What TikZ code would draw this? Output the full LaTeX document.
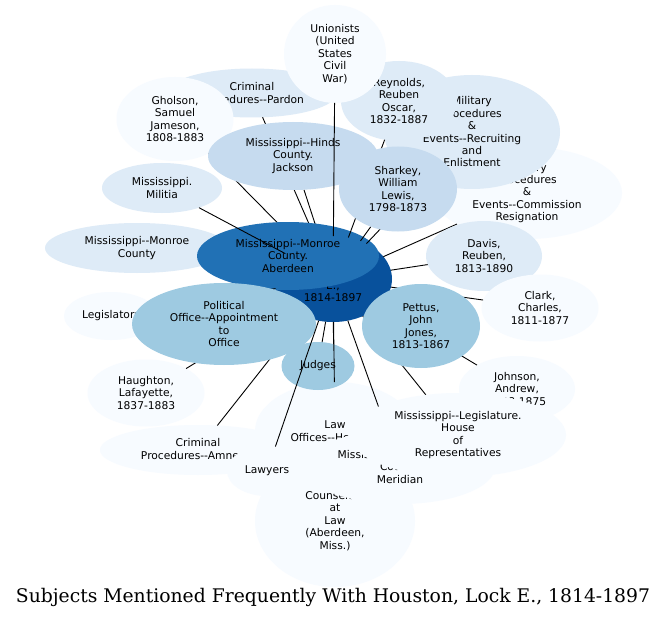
\documentclass[tikz,border=0pt]{standalone}
\usepackage{fontspec}
\usepackage{graphicx}
\usetikzlibrary{shapes.geometric}
\newfontfamily\nodefam{DejaVu Sans}
\newfontfamily\titlefam{DejaVu Serif}
\definecolor{bA}{HTML}{F7FBFF}
\definecolor{bB}{HTML}{DEEBF7}
\definecolor{bC}{HTML}{C6DBEF}
\definecolor{bD}{HTML}{9ECAE1}
\definecolor{bG}{HTML}{2171B5}
\definecolor{bH}{HTML}{08519C}
\pgfdeclarelayer{lZ}
\pgfdeclarelayer{lA}
\pgfdeclarelayer{lB}
\pgfdeclarelayer{lC}
\pgfdeclarelayer{lD}
\pgfdeclarelayer{lE}
\pgfdeclarelayer{lF}
\pgfdeclarelayer{lG}
\pgfdeclarelayer{lH}
\pgfdeclarelayer{lI}
\pgfsetlayers{lZ,lA,lB,lC,lD,lE,lF,lG,lH,lI,main}
\tikzset{
  bub/.style={ellipse, draw=none, inner sep=0pt, outer sep=0pt, align=center,
    font=\nodefam\fontsize{10.7}{12.4}\selectfont, text=black},
  sz/.style 2 args={minimum width=#1pt, minimum height=#2pt},
  link/.style={draw=black, line width=0.9pt},
}
\begin{document}
\begin{tikzpicture}[x=1pt, y=-1pt]
\useasboundingbox (0,0) rectangle (667,623);
\begin{pgfonlayer}{lZ}
\fill[white] (0,0) rectangle (667,623);
\end{pgfonlayer}
\begin{pgfonlayer}{lA}
\node[bub, fill=bH, sz={118}{86}] (houston) at (333,279) {Houston,\\Lock\\E.,\\1814-1897};
\node[bub, fill=bA, sz={190}{92}] (commission) at (527,193) {Military\\Procedures\\\&\\Events--Commission\\Resignation};
\node[bub, fill=bB, sz={176}{114}] (recruiting) at (472,132) {Military\\Procedures\\\&\\Events--Recruiting\\and\\Enlistment};
\node[bub, fill=bB, sz={116}{80}] (reynolds) at (399,101) {Reynolds,\\Reuben\\Oscar,\\1832-1887};
\node[bub, fill=bB, sz={170}{49}] (pardon) at (252,93) {Criminal\\Procedures--Pardon};
\node[bub, fill=bA, sz={102}{98}] (unionists) at (335,54) {Unionists\\(United\\States\\Civil\\War)};
\node[bub, fill=bA, sz={117}{84}] (gholson) at (175,119) {Gholson,\\Samuel\\Jameson,\\1808-1883};
\node[bub, fill=bB, sz={120}{50}] (militia) at (162,188) {Mississippi.\\Militia};
\node[bub, fill=bB, sz={184}{50}] (monroe) at (137,248) {Mississippi--Monroe\\County};
\end{pgfonlayer}
\begin{pgfonlayer}{lC}
\node[bub, fill=bC, sz={170}{68}] (hinds) at (293,156) {Mississippi--Hinds\\County.\\Jackson};
\node[bub, fill=bG, sz={182}{68}] (aberdeen) at (288,256) {Mississippi--Monroe\\County.\\Aberdeen};
\end{pgfonlayer}
\begin{pgfonlayer}{lE}
\node[bub, fill=bC, sz={118}{85}] (sharkey) at (398,189) {Sharkey,\\William\\Lewis,\\1798-1873};
\node[bub, fill=bB, sz={116}{70}] (davis) at (484,256) {Davis,\\Reuben,\\1813-1890};
\node[bub, fill=bA, sz={117}{67}] (clark) at (540,308) {Clark,\\Charles,\\1811-1877};
\node[bub, fill=bA, sz={116}{66}] (johnson) at (517,389) {Johnson,\\Andrew,\\1808-1875};
\node[bub, fill=bA, sz={94}{48}] (legislators) at (111,316) {Legislators};
\node[bub, fill=bA, sz={117}{67}] (haughton) at (146,393) {Haughton,\\Lafayette,\\1837-1883};
\node[bub, fill=bA, sz={196}{50}] (amnesty) at (198,450) {Criminal\\Procedures--Amnesty};
\end{pgfonlayer}
\begin{pgfonlayer}{lG}
\node[bub, fill=bD, sz={184}{82}] (political) at (224,324) {Political\\Office--Appointment\\to\\Office};
\node[bub, fill=bD, sz={118}{84}] (pettus) at (421,326) {Pettus,\\John\\Jones,\\1813-1867};
\node[bub, fill=bA, sz={160}{98}] (lawoffices) at (335,431) {Law\\Offices--Houston};
\node[bub, fill=bD, sz={73}{48}] (judges) at (318,366) {Judges};
\end{pgfonlayer}
\begin{pgfonlayer}{lI}
\node[bub, fill=bA, sz={160}{132}] (counselors) at (335,521) {Counselors\\at\\Law\\(Aberdeen,\\Miss.)};
\node[bub, fill=bA, sz={190}{74}] (lauderdale) at (400,467) {Mississippi--Lauderdale\\County.\\Meridian};
\node[bub, fill=bA, sz={216}{84}] (legislature) at (458,435) {Mississippi--Legislature.\\House\\of\\Representatives};
\node[bub, fill=bA, sz={80}{50}] (lawyers) at (267,471) {Lawyers};
\end{pgfonlayer}
% connectors
\begin{pgfonlayer}{lZ}
\draw[link] (houston) -- (aberdeen);
\draw[link] (houston) -- (political);
\draw[link] (houston) -- (pettus);
\end{pgfonlayer}
\begin{pgfonlayer}{lB}
\draw[link] (houston) -- (monroe);
\draw[link] (houston) -- (pardon);
\draw[link] (houston) -- (gholson);
\draw[link] (houston) -- (hinds);
\end{pgfonlayer}
\begin{pgfonlayer}{lD}
\draw[link] (houston) -- (unionists);
\draw[link] (houston) -- (militia);
\draw[link] (houston) -- (reynolds);
\draw[link] (houston) -- (recruiting);
\draw[link] (houston) -- (sharkey);
\draw[link] (houston) -- (commission);
\draw[link] (houston) -- (davis);
\end{pgfonlayer}
\begin{pgfonlayer}{lF}
\draw[link] (houston) -- (legislators);
\draw[link] (houston) -- (haughton);
\draw[link] (houston) -- (amnesty);
\draw[link] (houston) -- (clark);
\draw[link] (houston) -- (johnson);
\draw[link] (houston) -- (legislature);
\draw[link] (houston) -- (counselors);
\end{pgfonlayer}
\begin{pgfonlayer}{lH}
\draw[link] (houston) -- (judges);
\draw[link] (houston) -- (lawoffices);
\draw[link] (houston) -- (lauderdale);
\end{pgfonlayer}
\draw[link] (houston) -- (lawyers);
\node[anchor=base, inner sep=0pt, font=\titlefam] (title) at (333,602)
  {\resizebox{634pt}{!}{Subjects Mentioned Frequently With Houston, Lock E., 1814-1897}};
\end{tikzpicture}
\end{document}
